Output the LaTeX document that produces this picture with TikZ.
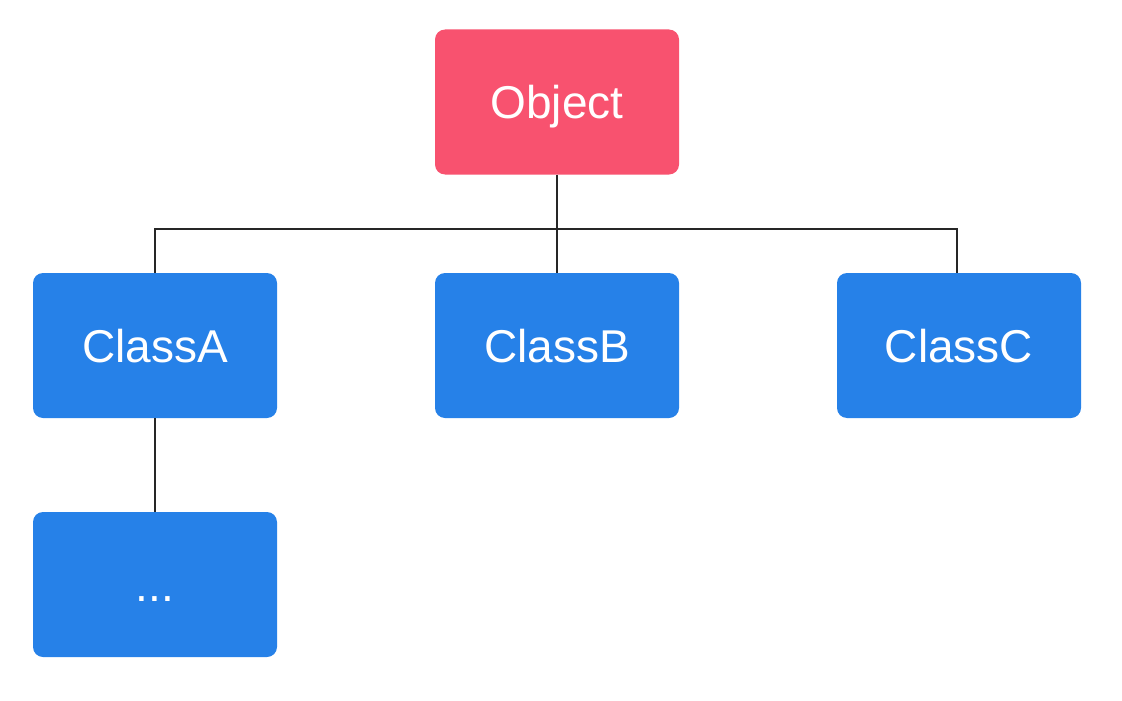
\documentclass[tikz,border=0pt]{standalone}
\usepackage{fontspec}
\setmainfont{Liberation Sans}
\definecolor{objred}{HTML}{F8526F}
\definecolor{clsblue}{HTML}{2681E8}
\begin{document}
\begin{tikzpicture}[x=1pt,y=-1pt,
  box/.style={rounded corners=10pt, minimum width=244pt, minimum height=145pt, inner sep=0pt, text=white, text height=33pt, text depth=0pt, font=\fontsize{46}{54}\selectfont},
  redbox/.style={box, fill=objred},
  bluebox/.style={box, fill=clsblue},
  conn/.style={draw=black!85, line width=1.4pt}]
\useasboundingbox (0,0) rectangle (1122,701);
\node[redbox] (obj) at (557,102) {Object};
\node[bluebox] (a) at (155,345.5) {ClassA};
\node[bluebox] (b) at (557,345.5) {ClassB};
\node[bluebox] (c) at (959,345.5) {ClassC};
\node[bluebox] (d) at (155,584.5) {...};
\coordinate (j) at (557,229);
\draw[conn] (obj.south) -- (b.north);
\draw[conn] (a.north) -- (a.north |- j) -- ([xshift=-2pt]c.north |- j) -- ([xshift=-2pt]c.north);
\draw[conn] (a.south) -- (d.north);
\end{tikzpicture}
\end{document}
